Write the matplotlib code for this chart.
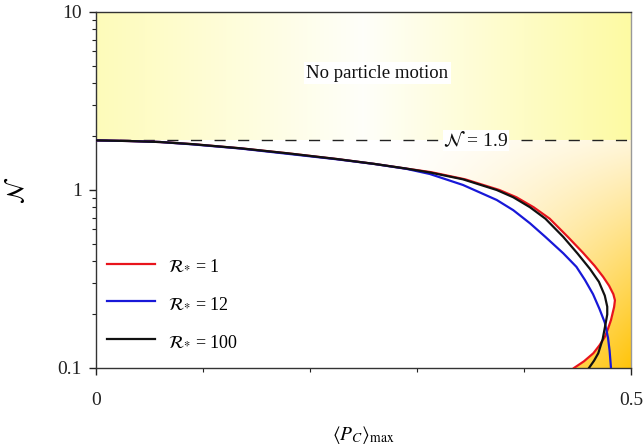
import numpy as np
import matplotlib
matplotlib.use("Agg")
import matplotlib.pyplot as plt
from matplotlib.lines import Line2D

plt.rcParams['font.family'] = ['Liberation Serif', 'DejaVu Serif']
plt.rcParams['mathtext.fontset'] = 'stix'

# ---- data ----
threshold_N = 1.9
red_label = r'$\mathcal{R}_{*}$ = 1'
blue_label = r'$\mathcal{R}_{*}$ = 12'
black_label = r'$\mathcal{R}_{*}$ = 100'

red_x = [0, 0.03, 0.06, 0.09, 0.135, 0.18, 0.225, 0.26, 0.29, 0.313, 0.345,
         0.377, 0.393, 0.409, 0.424, 0.441, 0.455, 0.466, 0.474, 0.4795,
         0.4835, 0.485, 0.4842, 0.4813, 0.4785, 0.4757, 0.4705, 0.4648, 0.456, 0.4467]
red_N = [1.9, 1.885, 1.86, 1.81, 1.715, 1.605, 1.493, 1.402, 1.319, 1.26, 1.148,
         1.0, 0.91, 0.80, 0.69, 0.545, 0.445, 0.375, 0.325, 0.29,
         0.26, 0.24, 0.22, 0.186, 0.166, 0.150, 0.134, 0.121, 0.109, 0.1]

blue_x = [0, 0.03, 0.06, 0.09, 0.135, 0.18, 0.225, 0.26, 0.29, 0.312, 0.343,
          0.3745, 0.39, 0.4056, 0.42, 0.4367, 0.449, 0.457, 0.4645, 0.4705,
          0.4755, 0.4785, 0.4800, 0.4813]
blue_N = [1.9, 1.885, 1.86, 1.805, 1.71, 1.595, 1.488, 1.40, 1.315, 1.23, 1.067,
          0.879, 0.77, 0.65, 0.545, 0.441, 0.37, 0.312, 0.26, 0.215,
          0.18, 0.148, 0.125, 0.1]

black_x = [0, 0.03, 0.06, 0.09, 0.135, 0.18, 0.225, 0.26, 0.29, 0.312, 0.343,
           0.3745, 0.39, 0.4056, 0.42, 0.4367, 0.45, 0.4617, 0.47, 0.4755,
           0.4778, 0.4778, 0.4763, 0.4735, 0.4694, 0.4655, 0.4607]
black_N = [1.9, 1.885, 1.86, 1.81, 1.715, 1.605, 1.493, 1.402, 1.319, 1.255, 1.148,
           1.0, 0.91, 0.80, 0.69, 0.545, 0.44, 0.36, 0.305, 0.255,
           0.221, 0.20, 0.178, 0.145, 0.121, 0.11, 0.1]

x_ticks = [0, 0.5]
x_ticklabels = ['0', '0.5']
x_minor = [0.1, 0.2, 0.3, 0.4]
y_ticks = [0.1, 1, 10]
y_ticklabels = ['0.1', '1', '10']

# ---- figure ----
W, H = 643, 445
fig = plt.figure(figsize=(W / 100, H / 100), dpi=100)
pos = [96 / W, 1 - 368 / H, (631 - 96) / W, (368 - 12) / H]

xmin, xmax = 0, 0.5
ymin, ymax = 0.1, 10
v_thr = (np.log10(threshold_N) - np.log10(ymin)) / (np.log10(ymax) - np.log10(ymin))

# background gradients
bg = fig.add_axes(pos, zorder=0)
bg.set_xlim(0, 1)
bg.set_ylim(0, 1)
bg.axis('off')

nu, nv = 400, 300
u = np.linspace(0, 1, nu)
# top region (horizontal gradient)
s = np.where(u < 0.5, 0.05 + 0.55 * (1 - u / 0.5), 0.05 + 0.75 * (u - 0.5) / 0.5)
yellow = np.array([253, 249, 140]) / 255.0
top = (1 - s)[None, :, None] * 1.0 + s[None, :, None] * yellow[None, None, :]
top = np.repeat(top, 2, axis=0)
bg.imshow(top, extent=(0, 1, v_thr, 1), aspect='auto', origin='lower',
          interpolation='bilinear')

# lower region (towards bottom-right gold)
v = np.linspace(0, v_thr, nv)
U, V = np.meshgrid(u, v)
a = np.clip((U - 0.55) / 0.45, 0, 1) ** 1.2
b = np.clip(1 - V / v_thr, 0, 1)
t = np.clip(a * (0.15 + 0.85 * b), 0, 1)
gold = np.array([255, 196, 10]) / 255.0
low = (1 - t)[..., None] * 1.0 + t[..., None] * gold[None, None, :]
bg.imshow(low, extent=(0, 1, 0, v_thr), aspect='auto', origin='lower',
          interpolation='bilinear')

ax = fig.add_axes(pos, zorder=1)
ax.set_facecolor('none')
ax.set_yscale('log')
ax.set_xlim(xmin, xmax)
ax.set_ylim(ymin, ymax)

# white interior under the outer curve
ax.fill_betweenx(red_N, 0, red_x, color='white', lw=0, zorder=1)

ax.axhline(threshold_N, color='#222222', lw=1.0, ls=(0, (8, 9)), zorder=2)

ax.plot(red_x, red_N, color='#e8141c', lw=1.6, zorder=3, solid_joinstyle='round')
ax.plot(black_x, black_N, color='#111111', lw=1.6, zorder=4, solid_joinstyle='round')
ax.plot(blue_x, blue_N, color='#1818d8', lw=1.6, zorder=3.5, solid_joinstyle='round')

ax.text(0.263, 4.54, 'No particle motion', ha='center', va='center',
        fontsize=13.5, color='#111111',
        bbox=dict(facecolor='white', edgecolor='none', pad=2))
ax.text(0.355, threshold_N, r'$\mathcal{N}$ = 1.9', ha='center', va='center',
        fontsize=14, color='#111111',
        bbox=dict(facecolor='white', edgecolor='none', pad=0.3))

ax.set_xticks(x_ticks)
ax.set_xticklabels(x_ticklabels)
ax.set_xticks(x_minor, minor=True)
ax.set_yticks(y_ticks)
ax.set_yticklabels(y_ticklabels)
ax.tick_params(axis='both', which='major', direction='out', length=5, width=1,
               labelsize=14, colors='#222222')
ax.tick_params(axis='x', which='major', pad=12)
ax.tick_params(axis='y', which='major', pad=5)
ax.tick_params(axis='both', which='minor', direction='out', length=3, width=0.8,
               colors='#222222')
ax.tick_params(axis='y', which='minor', labelleft=False)
for sp in ax.spines.values():
    sp.set_color('#333333')
    sp.set_linewidth(1.0)
ax.spines['right'].set_color('#999999')

ax.set_xlabel(r'$\langle P_C\rangle_{\rm max}$', fontsize=14)
ax.xaxis.set_label_coords(0.5, -0.158)
ax.set_ylabel(r'$\mathcal{N}$', fontsize=17)
ax.yaxis.set_label_coords(-0.125, 0.5)

handles = [Line2D([], [], color='#e8141c', lw=1.6),
           Line2D([], [], color='#1818d8', lw=1.6),
           Line2D([], [], color='#111111', lw=1.6)]
ax.legend(handles, [red_label, blue_label, black_label], loc='lower left',
          bbox_to_anchor=(0.0206, 0.052), frameon=False, fontsize=13,
          handlelength=2.65, handletextpad=0.72, labelspacing=1.15,
          borderpad=0, borderaxespad=0)

fig.savefig('out.png', dpi=100)
